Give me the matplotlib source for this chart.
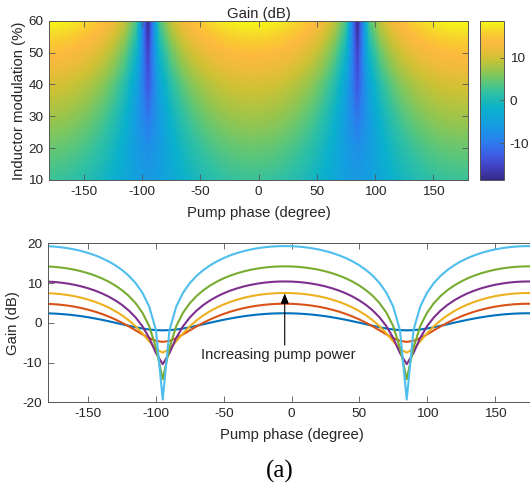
import matplotlib
matplotlib.use("Agg")
import matplotlib.pyplot as plt
import numpy as np
from matplotlib.colors import LinearSegmentedColormap

# ---- data: gain curves (bottom panel) ---------------------------------
phase_deg = [-180, -175, -170, -165, -160, -155, -150, -145, -140, -135, -130, -125,
             -120, -115, -110, -105, -100, -95, -90, -85, -80, -75, -70, -65,
             -60, -55, -50, -45, -40, -35, -30, -25, -20, -15, -10, -5,
             0, 5, 10, 15, 20, 25, 30, 35, 40, 45, 50, 55,
             60, 65, 70, 75, 80, 85, 90, 95, 100, 105, 110, 115,
             120, 125, 130, 135, 140, 145, 150, 155, 160, 165, 170, 175, 180]

# gain (dB) versus pump phase, lowest to highest pump power
gain_p1 = [2.38, 2.32, 2.21, 2.07, 1.88, 1.66, 1.39, 1.09, 0.76, 0.40, 0.02, -0.37, -0.75, -1.12, -1.43, -1.68, -1.84, -1.90,
           -1.84, -1.68, -1.43, -1.12, -0.75, -0.37, 0.02, 0.40, 0.76, 1.09, 1.39, 1.66, 1.88, 2.07, 2.21, 2.32, 2.38, 2.40,
           2.38, 2.32, 2.21, 2.07, 1.88, 1.66, 1.39, 1.09, 0.76, 0.40, 0.02, -0.37, -0.75, -1.12, -1.43, -1.68, -1.84, -1.90,
           -1.84, -1.68, -1.43, -1.12, -0.75, -0.37, 0.02, 0.40, 0.76, 1.09, 1.39, 1.66, 1.88, 2.07, 2.21, 2.32, 2.38, 2.40,
           2.38]
gain_p2 = [4.77, 4.68, 4.53, 4.32, 4.05, 3.71, 3.29, 2.81, 2.24, 1.59, 0.85, 0.01, -0.91, -1.90, -2.91, -3.85, -4.54, -4.80,
           -4.54, -3.85, -2.91, -1.90, -0.91, 0.01, 0.85, 1.59, 2.24, 2.81, 3.29, 3.71, 4.05, 4.32, 4.53, 4.68, 4.77, 4.80,
           4.77, 4.68, 4.53, 4.32, 4.05, 3.71, 3.29, 2.81, 2.24, 1.59, 0.85, 0.01, -0.91, -1.90, -2.91, -3.85, -4.54, -4.80,
           -4.54, -3.85, -2.91, -1.90, -0.91, 0.01, 0.85, 1.59, 2.24, 2.81, 3.29, 3.71, 4.05, 4.32, 4.53, 4.68, 4.77, 4.80,
           4.77]
gain_p3 = [7.47, 7.37, 7.21, 6.98, 6.68, 6.30, 5.83, 5.28, 4.62, 3.85, 2.94, 1.87, 0.61, -0.89, -2.66, -4.66, -6.59, -7.50,
           -6.59, -4.66, -2.66, -0.89, 0.61, 1.87, 2.94, 3.85, 4.62, 5.28, 5.83, 6.30, 6.68, 6.98, 7.21, 7.37, 7.47, 7.50,
           7.47, 7.37, 7.21, 6.98, 6.68, 6.30, 5.83, 5.28, 4.62, 3.85, 2.94, 1.87, 0.61, -0.89, -2.66, -4.66, -6.59, -7.50,
           -6.59, -4.66, -2.66, -0.89, 0.61, 1.87, 2.94, 3.85, 4.62, 5.28, 5.83, 6.30, 6.68, 6.98, 7.21, 7.37, 7.47, 7.50,
           7.47]
gain_p4 = [10.37, 10.27, 10.10, 9.86, 9.55, 9.16, 8.68, 8.11, 7.43, 6.61, 5.64, 4.49, 3.08, 1.35, -0.86, -3.78, -7.60, -10.40,
           -7.60, -3.78, -0.86, 1.35, 3.08, 4.49, 5.64, 6.61, 7.43, 8.11, 8.68, 9.16, 9.55, 9.86, 10.10, 10.27, 10.37, 10.40,
           10.37, 10.27, 10.10, 9.86, 9.55, 9.16, 8.68, 8.11, 7.43, 6.61, 5.64, 4.49, 3.08, 1.35, -0.86, -3.78, -7.60, -10.40,
           -7.60, -3.78, -0.86, 1.35, 3.08, 4.49, 5.64, 6.61, 7.43, 8.11, 8.68, 9.16, 9.55, 9.86, 10.10, 10.27, 10.37, 10.40,
           10.37]
gain_p5 = [14.17, 14.07, 13.90, 13.66, 13.35, 12.95, 12.47, 11.89, 11.20, 10.37, 9.38, 8.20, 6.75, 4.93, 2.55, -0.81, -6.24, -14.20,
           -6.24, -0.81, 2.55, 4.93, 6.75, 8.20, 9.38, 10.37, 11.20, 11.89, 12.47, 12.95, 13.35, 13.66, 13.90, 14.07, 14.17, 14.20,
           14.17, 14.07, 13.90, 13.66, 13.35, 12.95, 12.47, 11.89, 11.20, 10.37, 9.38, 8.20, 6.75, 4.93, 2.55, -0.81, -6.24, -14.20,
           -6.24, -0.81, 2.55, 4.93, 6.75, 8.20, 9.38, 10.37, 11.20, 11.89, 12.47, 12.95, 13.35, 13.66, 13.90, 14.07, 14.17, 14.20,
           14.17]
gain_p6 = [19.27, 19.17, 19.00, 18.76, 18.45, 18.05, 17.57, 16.99, 16.29, 15.46, 14.47, 13.28, 11.82, 9.99, 7.57, 4.11, -1.82, -19.30,
           -1.82, 4.11, 7.57, 9.99, 11.82, 13.28, 14.47, 15.46, 16.29, 16.99, 17.57, 18.05, 18.45, 18.76, 19.00, 19.17, 19.27, 19.30,
           19.27, 19.17, 19.00, 18.76, 18.45, 18.05, 17.57, 16.99, 16.29, 15.46, 14.47, 13.28, 11.82, 9.99, 7.57, 4.11, -1.82, -19.30,
           -1.82, 4.11, 7.57, 9.99, 11.82, 13.28, 14.47, 15.46, 16.29, 16.99, 17.57, 18.05, 18.45, 18.76, 19.00, 19.17, 19.27, 19.30,
           19.27]

gain_curves = [gain_p1, gain_p2, gain_p3, gain_p4, gain_p5, gain_p6]

# ---- data: gain map (top panel), 10-degree cells ----------------------
map_phase = [-175, -165, -155, -145, -135, -125, -115, -105, -95, -85, -75, -65, -55, -45, -35, -25, -15, -5,
             5, 15, 25, 35, 45, 55, 65, 75, 85, 95, 105, 115, 125, 135, 145, 155, 165, 175]
modulation_pct = [10, 20, 30, 40, 50, 60]

map_10 = [2.29, 1.94, 1.36, 0.51, -0.63, -2.06, -3.72, -5.29, -6.00, -5.29, -3.72, -2.06, -0.63, 0.51, 1.36, 1.94, 2.29, 2.40,
          2.29, 1.94, 1.36, 0.51, -0.63, -2.06, -3.72, -5.29, -6.00, -5.29, -3.72, -2.06, -0.63, 0.51, 1.36, 1.94, 2.29, 2.40]
map_20 = [4.68, 4.29, 3.64, 2.66, 1.31, -0.51, -2.92, -5.79, -7.50, -5.79, -2.92, -0.51, 1.31, 2.66, 3.64, 4.29, 4.68, 4.80,
          4.68, 4.29, 3.64, 2.66, 1.31, -0.51, -2.92, -5.79, -7.50, -5.79, -2.92, -0.51, 1.31, 2.66, 3.64, 4.29, 4.68, 4.80]
map_30 = [7.37, 6.97, 6.27, 5.23, 3.76, 1.68, -1.33, -5.92, -10.50, -5.92, -1.33, 1.68, 3.76, 5.23, 6.27, 6.97, 7.37, 7.50,
          7.37, 6.97, 6.27, 5.23, 3.76, 1.68, -1.33, -5.92, -10.50, -5.92, -1.33, 1.68, 3.76, 5.23, 6.27, 6.97, 7.37, 7.50]
map_40 = [10.27, 9.86, 9.16, 8.10, 6.59, 4.43, 1.21, -4.27, -13.50, -4.27, 1.21, 4.43, 6.59, 8.10, 9.16, 9.86, 10.27, 10.40,
          10.27, 9.86, 9.16, 8.10, 6.59, 4.43, 1.21, -4.27, -13.50, -4.27, 1.21, 4.43, 6.59, 8.10, 9.16, 9.86, 10.27, 10.40]
map_50 = [14.07, 13.66, 12.95, 11.89, 10.37, 8.19, 4.92, -0.86, -15.50, -0.86, 4.92, 8.19, 10.37, 11.89, 12.95, 13.66, 14.07, 14.20,
          14.07, 13.66, 12.95, 11.89, 10.37, 8.19, 4.92, -0.86, -15.50, -0.86, 4.92, 8.19, 10.37, 11.89, 12.95, 13.66, 14.07, 14.20]
map_60 = [18.47, 18.06, 17.35, 16.29, 14.76, 12.58, 9.29, 3.42, -18.60, 3.42, 9.29, 12.58, 14.76, 16.29, 17.35, 18.06, 18.47, 18.60,
          18.47, 18.06, 17.35, 16.29, 14.76, 12.58, 9.29, 3.42, -18.60, 3.42, 9.29, 12.58, 14.76, 16.29, 17.35, 18.06, 18.47, 18.60]

map_rows = [map_10, map_20, map_30, map_40, map_50, map_60]

x_ticks = [-150, -100, -50, 0, 50, 100, 150]
y_ticks_map = [10, 20, 30, 40, 50, 60]
y_ticks_gain = [-20, -10, 0, 10, 20]
cbar_ticks = [-10, 0, 10]

line_colors = ["#0072BD", "#D95319", "#EDB120", "#7E2F8E", "#77AC30", "#4DBEEE"]

# ---- style ------------------------------------------------------------
plt.rcParams["font.family"] = ["Liberation Sans", "DejaVu Sans"]
plt.rcParams["axes.unicode_minus"] = False
TXT = "#262626"
SPINE = "#555555"
TICK_FS = 9.7
LABEL_FS = 10.7

parula = LinearSegmentedColormap.from_list("parula", [
    (0.00, (0.208, 0.166, 0.529)),
    (0.08, (0.260, 0.250, 0.760)),
    (0.16, (0.240, 0.370, 0.900)),
    (0.25, (0.160, 0.510, 0.930)),
    (0.35, (0.080, 0.620, 0.880)),
    (0.45, (0.040, 0.695, 0.800)),
    (0.55, (0.190, 0.755, 0.640)),
    (0.62, (0.380, 0.780, 0.460)),
    (0.69, (0.600, 0.775, 0.300)),
    (0.76, (0.800, 0.760, 0.210)),
    (0.82, (0.930, 0.740, 0.220)),
    (0.87, (0.990, 0.730, 0.250)),
    (0.92, (0.980, 0.800, 0.190)),
    (0.96, (0.960, 0.890, 0.150)),
    (1.00, (0.976, 0.983, 0.054)),
])


def style_axes(ax):
    for sp in ax.spines.values():
        sp.set_color(SPINE)
        sp.set_linewidth(0.7)
    ax.tick_params(direction="in", top=True, right=True, length=4, width=0.6,
                   color=SPINE, labelcolor=TXT, labelsize=TICK_FS, pad=4)


W, H = 530, 490
fig = plt.figure(figsize=(W / 100, H / 100), dpi=100)

# ---- top panel: gain map ---------------------------------------------
ax1 = fig.add_axes([49 / W, 1 - 180 / H, 419 / W, 159.3 / H])
gain_map = np.array(map_rows)
ph_map = np.array(map_phase)
mod = np.array(modulation_pct)
dph = ph_map[1] - ph_map[0]
dmod = mod[1] - mod[0]
im = ax1.imshow(gain_map, origin="lower", aspect="auto", cmap=parula,
                extent=[ph_map[0] - dph / 2, ph_map[-1] + dph / 2,
                        mod[0] - dmod / 2, mod[-1] + dmod / 2],
                interpolation="bilinear", interpolation_stage="data",
                vmin=gain_map.min(), vmax=gain_map.max())
ax1.set_xlim(-180, 180)
ax1.set_ylim(10, 60)
ax1.set_xticks(x_ticks)
ax1.set_yticks(y_ticks_map)
style_axes(ax1)
ax1.set_title("Gain (dB)", fontsize=LABEL_FS, color=TXT, pad=2)
ax1.set_xlabel("Pump phase (degree)", fontsize=LABEL_FS, color=TXT, labelpad=6)
ax1.set_ylabel("Inductor modulation (%)", fontsize=LABEL_FS, color=TXT, labelpad=2)

cax = fig.add_axes([480 / W, 1 - 180 / H, 24 / W, 159.3 / H])
cb = fig.colorbar(im, cax=cax, ticks=cbar_ticks)
cb.outline.set_edgecolor(SPINE)
cb.outline.set_linewidth(0.7)
cax.tick_params(direction="in", length=3, width=0.6, color=SPINE,
                labelcolor=TXT, labelsize=TICK_FS, pad=4)

# ---- bottom panel: gain curves ---------------------------------------
ax2 = fig.add_axes([47.5 / W, 1 - 402.3 / H, 488 / W, 159 / H])
for row, col in zip(gain_curves, line_colors):
    ax2.plot(phase_deg, row, color=col, lw=1.5, solid_joinstyle="round")
ax2.set_xlim(-180, 180)
ax2.set_ylim(-20, 20)
ax2.set_xticks(x_ticks)
ax2.set_yticks(y_ticks_gain)
style_axes(ax2)
ax2.set_xlabel("Pump phase (degree)", fontsize=LABEL_FS, color=TXT, labelpad=6)
ax2.set_ylabel("Gain (dB)", fontsize=LABEL_FS, color=TXT, labelpad=2)

ax2.annotate("", xy=(-5, 7.4), xytext=(-5, -5.6),
             arrowprops=dict(arrowstyle="-|>,head_length=0.5,head_width=0.2",
                             color="black", lw=0.8, mutation_scale=12,
                             shrinkA=0, shrinkB=0))
ax2.text(-67, -8.1, "Increasing pump power", fontsize=LABEL_FS, color=TXT,
         ha="left", va="center")

fig.text(280 / W, 1 - 471.7 / H, "(a)", family=["Liberation Serif", "DejaVu Serif"],
         fontsize=18, color="black", ha="center", va="center")

fig.savefig("out.png", dpi=100, facecolor="white")
